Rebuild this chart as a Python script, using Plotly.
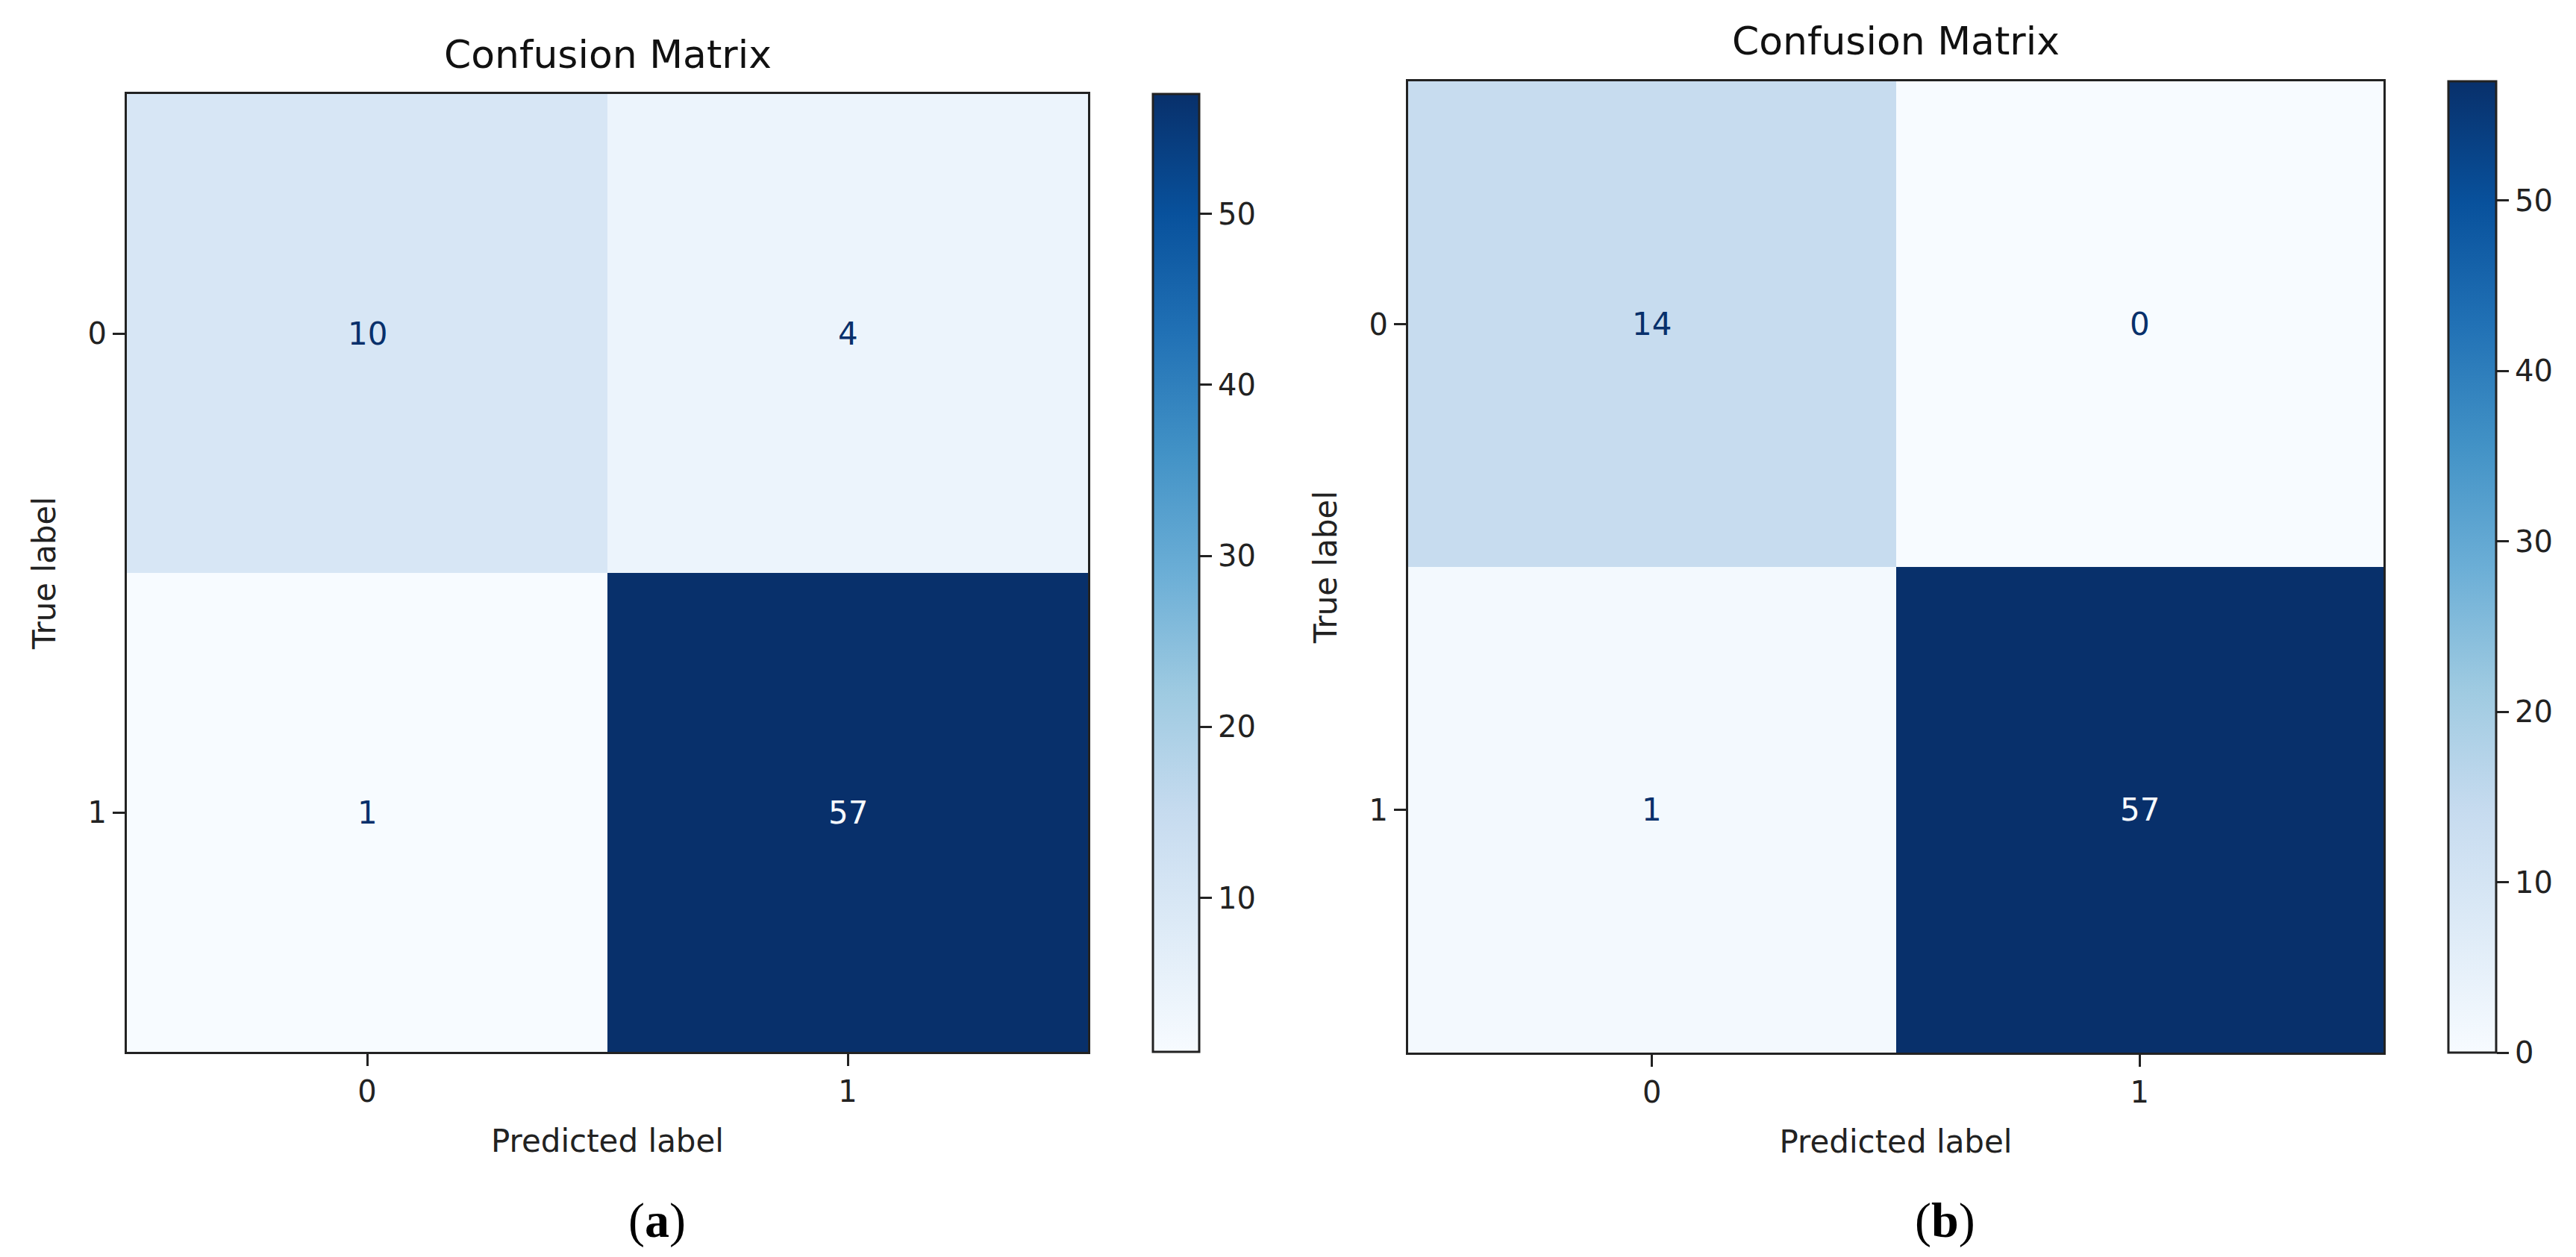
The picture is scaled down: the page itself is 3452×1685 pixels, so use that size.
import plotly.graph_objects as go

# ---------------- data ----------------
classes = [0, 1]
tick_labels = ["0", "1"]
cm_a = [[10, 4], [1, 57]]
cm_b = [[14, 0], [1, 57]]
cbar_ticks_a = [10, 20, 30, 40, 50]
cbar_ticks_b = [0, 10, 20, 30, 40, 50]
panel_labels = ["a", "b"]
title_text = "Confusion Matrix"
x_title = "Predicted label"
y_title = "True label"

# matplotlib "Blues" (ColorBrewer 9-class)
blues_colors = ["#f7fbff", "#deebf7", "#c6dbef", "#9ecae1", "#6baed6",
                "#4292c6", "#2171b5", "#08519c", "#08306b"]
blues = [[i / (len(blues_colors) - 1), c] for i, c in enumerate(blues_colors)]

W, H = 3452, 1685
FONT = "DejaVu Sans"

# panel geometry in pixels (left, right, top, bottom), colorbar (left, width)
panels = [
    dict(cm=cm_a, ticks=cbar_ticks_a, box=(162, 1450, 118, 1402), cb=(1537, 62),
         title_y=65, label_x=872, ylab_x=46),
    dict(cm=cm_b, ticks=cbar_ticks_b, box=(1879, 3186, 101, 1403), cb=(3273, 64),
         title_y=47, label_x=2598, ylab_x=1762),
]

fig = go.Figure()
annotations = []
layout_axes = {}

for i, p in enumerate(panels):
    n = i + 1
    xa = "x" if n == 1 else f"x{n}"
    ya = "y" if n == 1 else f"y{n}"
    l, r, t, b = p["box"]
    cm = p["cm"]
    flat = [v for row in cm for v in row]
    zmin, zmax = min(flat), max(flat)
    cbl, cbw = p["cb"]

    fig.add_trace(go.Heatmap(
        z=cm, x=classes, y=classes, xaxis=xa, yaxis=ya,
        colorscale=blues, zmin=zmin, zmax=zmax, showscale=True,
        hoverongaps=False,
        colorbar=dict(
            x=cbl / W, xanchor="left", xref="paper",
            y=1 - (t + b) / 2 / H, yanchor="middle",
            len=(b - t) / H, lenmode="fraction",
            thickness=cbw, thicknessmode="pixels",
            xpad=0, ypad=0,
            outlinewidth=3, outlinecolor="#222222",
            tickmode="array", tickvals=p["ticks"],
            ticks="outside", ticklen=16, tickwidth=3, tickcolor="#222222",
            tickfont=dict(family=FONT, size=40, color="#222222"),
        ),
    ))

    axkey_x = "xaxis" if n == 1 else f"xaxis{n}"
    axkey_y = "yaxis" if n == 1 else f"yaxis{n}"
    layout_axes[axkey_x] = dict(
        domain=[l / W, r / W], anchor=ya, range=[-0.5, 1.5],
        tickmode="array", tickvals=classes, ticktext=tick_labels,
        ticks="outside", ticklen=16, tickwidth=3, tickcolor="#222222",
        showline=True, linewidth=3, linecolor="#222222", mirror=True,
        showgrid=False, zeroline=False,
        tickfont=dict(family=FONT, size=40, color="#222222"),
        title=dict(text=x_title, font=dict(family=FONT, size=42, color="#222222"), standoff=30),
    )
    layout_axes[axkey_y] = dict(
        domain=[1 - b / H, 1 - t / H], anchor=xa, range=[1.5, -0.5],
        tickmode="array", tickvals=classes, ticktext=tick_labels,
        ticks="outside", ticklen=16, tickwidth=3, tickcolor="#222222",
        showline=True, linewidth=3, linecolor="#222222", mirror=True,
        showgrid=False, zeroline=False,
        tickfont=dict(family=FONT, size=40, color="#222222"),
        title=dict(text=y_title, font=dict(family=FONT, size=42, color="#222222"), standoff=30),
    )

    # cell value annotations (matplotlib ConfusionMatrixDisplay colouring)
    thresh = (zmax + zmin) / 2
    for ri, row in enumerate(cm):
        for ci, v in enumerate(row):
            col = blues_colors[0] if v >= thresh else blues_colors[-1]
            annotations.append(dict(
                x=classes[ci], y=classes[ri], xref=xa, yref=ya, text=str(v),
                showarrow=False, font=dict(family=FONT, size=42, color=col)))

    # title
    annotations.append(dict(
        x=(l + r) / 2 / W, y=1 - p["title_y"] / H, xref="paper", yref="paper",
        text=title_text, showarrow=False, xanchor="center", yanchor="middle",
        font=dict(family=FONT, size=52, color="#111111")))
    # panel label
    annotations.append(dict(
        x=p["label_x"] / W, y=1 - 1628 / H, xref="paper", yref="paper",
        text=f"(<b>{panel_labels[i]}</b>)", showarrow=False,
        xanchor="center", yanchor="middle",
        font=dict(family="Liberation Serif", size=66, color="#000000")))

fig.update_layout(
    width=W, height=H, autosize=False,
    margin=dict(l=0, r=0, t=0, b=0),
    paper_bgcolor="white", plot_bgcolor="white",
    annotations=annotations, showlegend=False,
    **layout_axes,
)

fig.write_html("out.html")
